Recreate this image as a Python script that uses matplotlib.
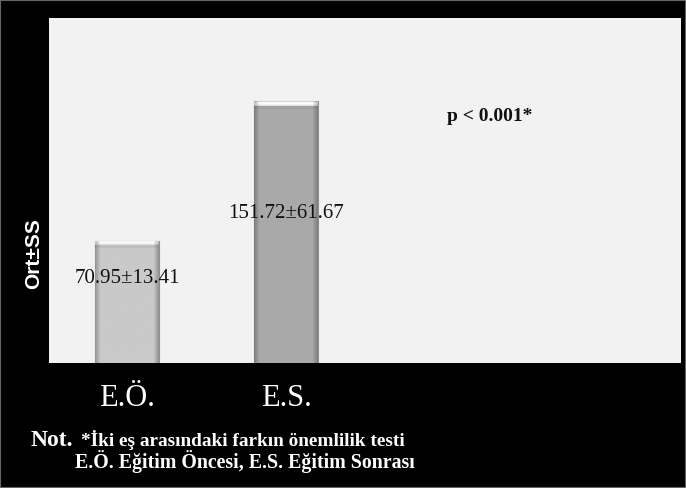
import numpy as np
import matplotlib
matplotlib.use("Agg")
import matplotlib.pyplot as plt
from matplotlib.patches import Rectangle

categories = ["E.Ö.", "E.S."]
means = [70.95, 151.72]
sds = [13.41, 61.67]
bar_colors = ["#c9c9c9", "#a9a9a9"]
p_text = "p < 0.001*"
y_label = "Ort±SS"
note_head = "Not."
note_lines = ["*İki eş arasındaki farkın önemlilik testi",
              "E.Ö. Eğitim Öncesi, E.S. Eğitim Sonrası"]

W, H = 686, 488
fig = plt.figure(figsize=(W / 100, H / 100), dpi=100, facecolor="black")
fig.patches.append(Rectangle((0, 0), 1, 1, transform=fig.transFigure,
                             facecolor="none", edgecolor="#666666", lw=1.5))

ax = fig.add_axes([49 / W, 1 - 363 / H, 632 / W, 345 / H])
ax.set_facecolor("#f2f2f2")
ax.set_xlim(-0.49, 3.48)
ax.set_ylim(0, 200)
for s in ax.spines.values():
    s.set_visible(False)
ax.set_xticks([])
ax.set_yticks([])

x = np.arange(len(categories))
bars = ax.bar(x, means, width=0.40, color=bar_colors, edgecolor="#8f8f8f",
              linewidth=0.8, zorder=2)

# bevel look: soft side shading and a bright top strip, clipped to each bar
fig.canvas.draw()
for b, c in zip(bars, bar_colors):
    bb = b.get_window_extent()
    nw, nh = max(int(bb.width), 2), max(int(bb.height), 2)
    base = np.array(matplotlib.colors.to_rgb(c))
    side = np.ones(nw)
    k = 6
    side[:k] = np.linspace(0.75, 1, k)
    side[-k:] = np.linspace(1, 0.75, k)
    img = np.ones((nh, nw, 3)) * base * side[None, :, None]
    top_vals = np.array([0.85, 0.97, 0.99, 0.95, 0.88])
    t = len(top_vals)
    img[:t] = np.maximum(img[:t], top_vals[:, None, None] * np.clip(side, 0.8, 1)[None, :, None])
    img[t:t + 3] = img[t:t + 3] * 0.95
    img = np.clip(img, 0, 1)
    im = ax.imshow(img, extent=(b.get_x(), b.get_x() + b.get_width(), 0, b.get_height()),
                   aspect="auto", zorder=3, interpolation="bilinear")
    im.set_clip_path(b)
ax.set_xlim(-0.49, 3.48)
ax.set_ylim(0, 200)

label_y = [70.95 - 22, 151.72 - 65]
for xi, m, sd, ly in zip(x, means, sds, label_y):
    ax.text(xi, ly, f"{m:.2f}±{sd:.2f}", ha="center", va="center",
            fontsize=15, family="Liberation Serif", color="#111111", zorder=5)

ax.text(2.28, 143, p_text, ha="center", va="center", fontsize=14,
        family="Liberation Serif", fontweight="bold", color="#111111")

fig.text(34 / W, 1 - 254 / H, y_label, rotation=90, ha="center", va="center",
         fontsize=15, fontweight="bold", family="Liberation Sans", color="white")

for xi, c in zip(x, categories):
    fig.text(ax.transData.transform((xi, 0))[0] / W, 1 - 399 / H, c, ha="center",
             va="center", fontsize=22, family="Liberation Serif", color="white")

fig.text(31 / W, 1 - 446 / H, note_head, ha="left", va="baseline", fontsize=17,
         family="Liberation Serif", fontweight="bold", color="white")
fig.text(81 / W, 1 - 446 / H, note_lines[0], ha="left", va="baseline", fontsize=13.9,
         family="Liberation Serif", fontweight="bold", color="white")
fig.text(75 / W, 1 - 468 / H, note_lines[1], ha="left", va="baseline", fontsize=14.3,
         family="Liberation Serif", fontweight="bold", color="white")

fig.savefig("out.png", dpi=100, facecolor="black")
